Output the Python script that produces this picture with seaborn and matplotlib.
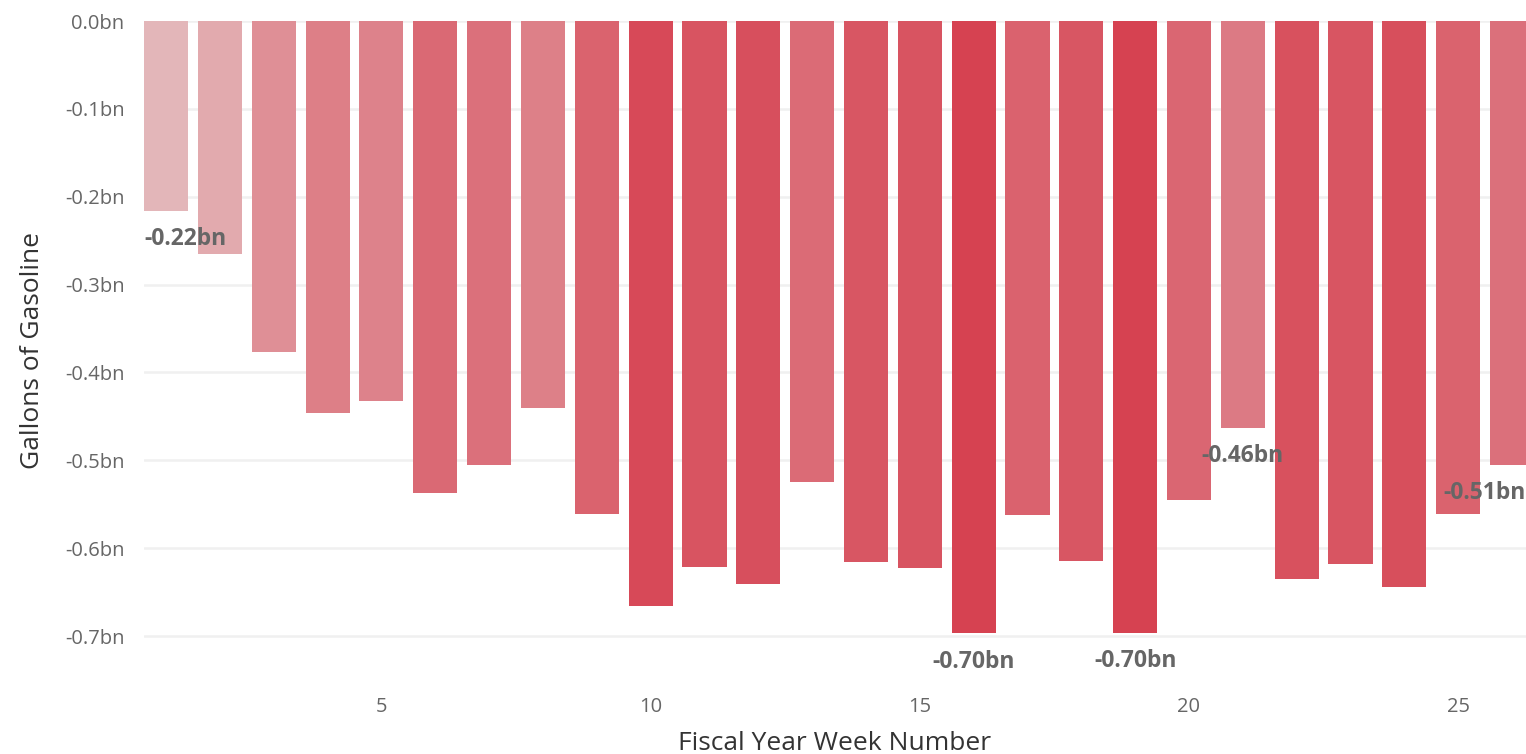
import numpy as np
import pandas as pd
import matplotlib
matplotlib.use('Agg')
import matplotlib.pyplot as plt
from matplotlib.colors import LinearSegmentedColormap, Normalize, to_hex
import seaborn as sns

# weekly gasoline change, billions of gallons
weeks = list(range(1, 27))
values = [-0.216, -0.265, -0.377, -0.446, -0.432, -0.537, -0.505, -0.440, -0.561, -0.666,
          -0.621, -0.641, -0.525, -0.616, -0.623, -0.697, -0.562, -0.615, -0.696, -0.545,
          -0.463, -0.635, -0.618, -0.644, -0.561, -0.505]
labelled_weeks = [1, 16, 19, 21, 26]

df = pd.DataFrame({'week': weeks, 'gallons': values})

sns.set_theme(style='white')
plt.rcParams['font.family'] = ['Open Sans', 'DejaVu Sans']

# colour by size of the drop
cmap = LinearSegmentedColormap.from_list('reds', ['#e3b6b9', '#d64251'])
norm = Normalize(vmin=min(-v for v in values), vmax=max(-v for v in values))
colors = [to_hex(cmap(norm(-v))) for v in values]

fig = plt.figure(figsize=(15.26, 7.54), dpi=100)
ax = fig.add_axes([144 / 1526, 74 / 754, 1 - 144 / 1526, 659 / 754])

sns.barplot(data=df, x='week', y='gallons', hue='week', palette=colors,
            native_scale=True, width=0.82, saturation=1, linewidth=0,
            legend=False, ax=ax, zorder=2)

xmin, xmax = 0.59, 26.26
ax.set_xlim(xmin, xmax)
ax.set_ylim(-0.75, 0)

ticks = np.arange(-0.7, 0.01, 0.1)
ax.set_yticks(ticks)
ax.set_yticklabels([f'{t:.1f}bn' if abs(t) > 1e-9 else '0.0bn' for t in ticks])
ax.set_xticks([5, 10, 15, 20, 25])
ax.tick_params(axis='both', length=0, labelsize=14.5, labelcolor='#666666')
ax.tick_params(axis='y', pad=14)
ax.tick_params(axis='x', pad=12)

ax.grid(axis='y', color='#f0f0f0', linewidth=1.8, zorder=0)
ax.grid(axis='x', visible=False)
sns.despine(ax=ax, left=True, bottom=True)

ax.set_xlabel('Fiscal Year Week Number', fontsize=19, color='#333333', labelpad=10)
ax.set_ylabel('Gallons of Gasoline', fontsize=19, color='#333333', labelpad=14)

for w, v in zip(weeks, values):
    if w not in labelled_weeks:
        continue
    x, ha = w, 'center'
    if w == weeks[0]:
        x, ha = xmin, 'left'
    elif w == weeks[-1]:
        x, ha = xmax, 'right'
    ax.text(x, v - 0.032, f'{v:.2f}bn', ha=ha, va='center', fontsize=16.5,
            fontweight='bold', color='#666666', zorder=3, clip_on=False)

fig.savefig('out.png', dpi=100)
